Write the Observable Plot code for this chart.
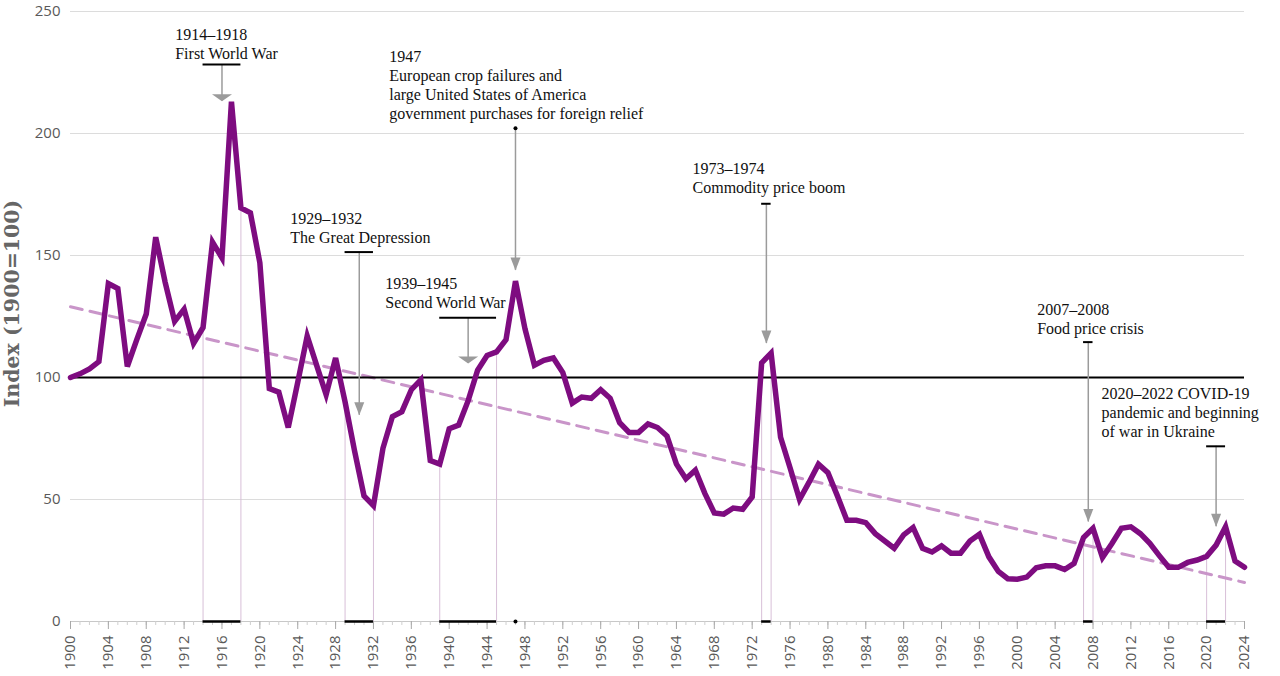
<!DOCTYPE html>
<html>
<head>
<meta charset="utf-8">
<script src="https://cdn.jsdelivr.net/npm/d3@7"></script>
<script src="https://cdn.jsdelivr.net/npm/@observablehq/plot@0.6"></script>
<style>
  html, body { margin: 0; padding: 0; background: #fff; }
  #chart svg { display: block; }
</style>
</head>
<body>
<div id="chart"></div>
<script>
// Real commodity price index, 1900 = 100, one value per year from 1900 to 2024
const firstYear = 1900;
const indexValues = [
  100, 101.5, 103.5, 106.5, 138.5, 136.5, 104.5, 115.5, 126, 157.5,   // 1900s
  139, 123, 128, 114, 120.5, 155.5, 149, 213, 169.5, 167.5,           // 1910s
  147, 95.5, 94, 79.5, 98, 117, 105, 93, 108, 90,                     // 1920s
  70, 51.5, 47.5, 71, 84, 86, 95, 99, 66, 64.5,                       // 1930s
  79, 80.5, 90.5, 103, 109, 110.5, 115.5, 139.5, 120, 105,            // 1940s
  107, 108, 102, 89.5, 92, 91.5, 95, 91.5, 81.5, 77.5,                // 1950s
  77.5, 81, 79.5, 76, 64.5, 58.5, 62, 52.5, 44.5, 44,                 // 1960s
  46.5, 46, 51, 106, 110, 75.5, 63, 50, 57, 64.5,                     // 1970s
  61, 51.5, 41.5, 41.5, 40.5, 36, 33, 30, 35.5, 38.5,                 // 1980s
  30, 28.5, 31, 28, 28, 33, 35.8, 26.5, 20.5, 17.5,                   // 1990s
  17.3, 18.2, 22, 22.8, 22.8, 21.3, 23.8, 34.4, 38.2, 26.2,           // 2000s
  32, 38.2, 38.8, 36, 32, 27, 22.2, 22.2, 24.2, 25.2,                 // 2010s
  26.7, 31.3, 38.8, 24.8, 22.2                                        // 2020s
];

// Long-run linear trend (end points)
const trendYears = [1900, 2024];
const trendValues = [129, 16];

// Axis ticks
const xTicks = [1900, 1904, 1908, 1912, 1916, 1920, 1924, 1928, 1932, 1936, 1940,
  1944, 1948, 1952, 1956, 1960, 1964, 1968, 1972, 1976, 1980, 1984, 1988, 1992,
  1996, 2000, 2004, 2008, 2012, 2016, 2020, 2024];
const yTicks = [0, 50, 100, 150, 200, 250];
const gridValues = [50, 150, 200, 250];
const baseline = 100;

// Episodes: period, label, and the heights (index units) of label baseline, bracket and arrow tip
const episodeStart = [1914, 1929, 1939, 1947, 1973, 2007, 2020];
const episodeEnd   = [1918, 1932, 1945, 1947, 1974, 2008, 2022];
const episodeLabels = [
  "1914–1918\nFirst World War",
  "1929–1932\nThe Great Depression",
  "1939–1945\nSecond World War",
  "1947\nEuropean crop failures and\nlarge United States of America\ngovernment purchases for foreign relief",
  "1973–1974\nCommodity price boom",
  "2007–2008\nFood price crisis",
  "2020–2022 COVID-19\npandemic and beginning\nof war in Ukraine"
];
const labelYears   = [1911.06, 1923.2, 1933.25, 1933.67, 1965.7, 2002.1, 2008.9];
const labelHeights = [230.4, 155.3, 128.6, 206.1, 175.5, 118.0, 75.6];
const bracketHeights = [228.3, 151.4, 124.5, 202.2, 171.2, 114.5, 71.8];
const arrowTipHeights = [213.2, 84.5, 105.7, 143.9, 113.9, 40.8, 38.8];

// Tables built from the arrays above
const series = indexValues.map((v, i) => ({year: firstYear + i, value: v}));
const years = series.map(d => d.year);
const valueAt = new Map(series.map(d => [d.year, d.value]));
const trend = trendYears.map((y, i) => ({year: y, value: trendValues[i]}));
const episodes = episodeStart.map((s, i) => ({
  start: s,
  end: episodeEnd[i],
  mid: (s + episodeEnd[i]) / 2,
  label: episodeLabels[i],
  labelX: labelYears[i],
  labelY: labelHeights[i],
  bracketY: bracketHeights[i],
  tipY: arrowTipHeights[i]
}));
const spans = episodes.filter(d => d.end > d.start);
const single = episodes.filter(d => d.end === d.start);
const edges = spans.flatMap(d => [d.start, d.end]).map(y => ({year: y, value: valueAt.get(y)}));

// Arrowheads: tip at the anchor point, base above it
const flatHead = {draw(ctx) { ctx.moveTo(-10, -7); ctx.lineTo(10, -7); ctx.lineTo(0, 0); ctx.closePath(); }};
const slimHead = {draw(ctx) { ctx.moveTo(-5, -13); ctx.lineTo(5, -13); ctx.lineTo(0, 0); ctx.closePath(); }};
const flatHeadEpisodes = new Set([1914, 1939]);

const gray = "#9b9b9b";
const purple = "#7e0c80";

const chart = Plot.plot({
  width: 1280,
  height: 676,
  marginLeft: 70,
  marginRight: 36,
  marginTop: 11,
  marginBottom: 55,
  style: {fontFamily: "'Open Sans', sans-serif", background: "#fff", overflow: "visible"},
  x: {domain: [1900, 2024]},
  y: {domain: [0, 250]},
  marks: [
    // gridlines
    Plot.ruleY(gridValues, {x1: 1900, x2: 2024, stroke: "#dcdcdc", strokeWidth: 1}),
    // y tick labels
    Plot.axisY(yTicks, {tickSize: 0, tickPadding: 10, fontSize: 15, color: "#595959", label: null}),
    // x axis line, minor and major ticks
    Plot.ruleY([0], {x1: 1900, x2: 2024, stroke: "#c8c8c8", strokeWidth: 1}),
    Plot.axisX(years, {tickSize: 4, text: null, stroke: "#cfcfcf", label: null}),
    Plot.axisX(xTicks, {tickSize: 8, tickPadding: 6, tickRotate: -90, fontSize: 15,
      tickFormat: d => String(d), stroke: "#a8a8a8", color: "#595959", label: null}),
    // y axis title
    Plot.text(["Index (1900=100)"], {frameAnchor: "left", textAnchor: "middle", rotate: -90,
      dx: -58, dy: -13, fontFamily: "'DejaVu Serif', serif", fontWeight: "bold",
      fontSize: 20.5, fill: "#666"}),
    // faint verticals at the start and end of each episode
    Plot.ruleX(edges, {x: "year", y1: 0, y2: "value", stroke: "#d8bfd8", strokeWidth: 1}),
    // trend
    Plot.line(trend, {x: "year", y: "value", stroke: "#c995c9", strokeWidth: 3, strokeDasharray: "12,8"}),
    // 1900 = 100 reference
    Plot.ruleY([baseline], {x1: 1900, x2: 2024, stroke: "#000", strokeWidth: 1.8}),
    // arrows
    Plot.ruleX(episodes, {x: "mid", y1: "bracketY", y2: "tipY", stroke: gray, strokeWidth: 1.5}),
    Plot.dot(episodes.filter(d => flatHeadEpisodes.has(d.start)), {x: "mid", y: "tipY", symbol: flatHead, fill: gray, stroke: null}),
    Plot.dot(episodes.filter(d => !flatHeadEpisodes.has(d.start)), {x: "mid", y: "tipY", symbol: slimHead, fill: gray, stroke: null}),
    // index line
    Plot.line(series, {x: "year", y: "value", stroke: purple, strokeWidth: 5.5,
      strokeLinejoin: "miter", strokeMiterlimit: 4}),
    // brackets above the arrows and period bars on the axis
    Plot.ruleY(spans, {x1: "start", x2: "end", y: "bracketY", stroke: "#000", strokeWidth: 2}),
    Plot.ruleY(spans, {x1: "start", x2: "end", y: 0, stroke: "#000", strokeWidth: 2.5}),
    Plot.dot(single, {x: "start", y: "bracketY", r: 2, fill: "#000", stroke: null}),
    Plot.dot(single, {x: "start", y: 0, r: 2, fill: "#000", stroke: null}),
    // labels
    Plot.text(episodes, {x: "labelX", y: "labelY", text: "label", textAnchor: "start",
      lineAnchor: "bottom", lineHeight: 1.18, fontSize: 16,
      fontFamily: "'Liberation Serif', serif", fill: "#111"})
  ]
});

document.getElementById("chart").appendChild(chart);
</script>
</body>
</html>
